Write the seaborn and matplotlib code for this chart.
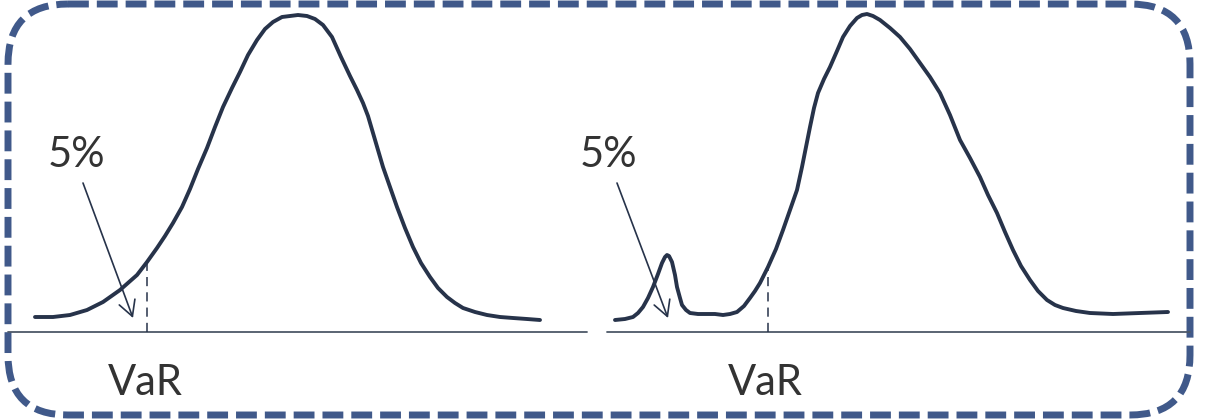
import numpy as np
import pandas as pd
import matplotlib
matplotlib.use("Agg")
import matplotlib.pyplot as plt
import seaborn as sns
from matplotlib.patches import FancyBboxPatch

# ---------------- data (arbitrary units) ----------------
# Left panel: bell-shaped return distribution
left_x = [27, 45, 62, 79, 95, 112, 129, 139, 149, 157, 165, 174, 182, 190, 199,
          207, 215, 224, 232, 240, 249, 257, 265, 274, 282, 290, 299, 307, 315,
          324, 333, 342, 349, 355, 360, 365, 370, 375, 382, 389, 397, 405, 413,
          422, 430, 439, 447, 455, 467, 479, 492, 505, 519, 532]
left_y = [15, 15, 17, 22, 30, 42, 57, 70, 84, 96, 109, 125, 143, 163, 184,
          205, 225, 244, 260, 277, 292, 303, 310, 315, 316, 317, 316, 313, 307,
          295, 275, 256, 242, 229, 216, 199, 182, 165, 145, 125, 104, 85, 69,
          55, 44, 35, 29, 24, 20, 17, 15, 14, 13, 12]

# Right panel: distribution with a small extra bump in the left tail
right_x = [8, 18, 26, 31, 36, 41, 46, 51, 55, 58, 60, 62, 65, 68, 70, 73, 75,
           79, 83, 91, 100, 108, 116, 123, 130, 137, 143, 148, 153, 161, 169,
           176, 183, 190, 195, 199, 203, 207, 211, 217, 223, 230, 236, 243, 250,
           255, 260, 266, 273, 283, 293, 303, 313, 323, 333, 343, 353, 363, 373,
           381, 390, 398, 406, 414, 423, 431, 440, 448, 456, 469, 483, 506, 533,
           561]
right_y = [12, 13, 15, 19, 25, 34, 45, 58, 69, 75, 77, 76, 70, 57, 45, 34, 27,
           22, 19, 18, 18, 18, 17, 18, 20, 26, 34, 41, 49, 65, 83,
           102, 122, 142, 165, 185, 205, 224, 239, 253, 265, 281, 295, 306, 314,
           317, 318, 316, 312, 304, 295, 283, 269, 255, 239, 217, 192, 174, 155,
           137, 119, 100, 82, 66, 52, 41, 32, 27, 24, 21, 19, 18, 19,
           20]

var_x = [139, 161]                   # VaR position in each panel
tail_label = "5%"
var_label = "VaR"
arrow_start = [(75, 149), (10, 149)]
arrow_end = [(125, 14), (61, 14)]
label_pos = [(68, 165), (1.5, 165)]
var_label_x = [137, 158]

# ---------------- style ----------------
W, H = 1219, 419
CURVE = "#27334a"
TEXT = "#333333"
BASE = "#4d5868"
BORDER = "#40598a"

sns.set_theme(style="white")
plt.rcParams["font.family"] = ["Lato", "DejaVu Sans"]

fig = plt.figure(figsize=(W / 100, H / 100), dpi=100)
fig.patch.set_facecolor("white")

# background axes in pixel units for the dashed rounded border
bg = fig.add_axes([0, 0, 1, 1])
bg.set_xlim(0, W)
bg.set_ylim(H, 0)
bg.axis("off")
border = FancyBboxPatch((8, 4), 1182, 411,
                        boxstyle="round,pad=0,rounding_size=60",
                        fill=False, edgecolor=BORDER, linewidth=5.0,
                        linestyle=(0, (3.0, 1.15)), capstyle="butt")
bg.add_patch(border)

def px_axes(x0, x1, ybot, ytop):
    return fig.add_axes([x0 / W, (H - ybot) / H, (x1 - x0) / W, (ybot - ytop) / H])

axes = [px_axes(8, 587, 332, 10), px_axes(607, 1190, 332, 10)]
xlims = [(0, 579), (0, 583)]
curves = [(left_x, left_y), (right_x, right_y)]

for i, ax in enumerate(axes):
    xs, ys = curves[i]
    df = pd.DataFrame({"x": xs, "density": ys})
    sns.lineplot(data=df, x="x", y="density", ax=ax, sort=False,
                 color=CURVE, linewidth=2.8, solid_capstyle="round",
                 solid_joinstyle="round")
    ax.set_xlim(*xlims[i])
    ax.set_ylim(0, 322)
    ax.axhline(0, color=BASE, linewidth=1.3, clip_on=False)
    vx = var_x[i]
    vtop = float(np.interp(vx, xs, ys))
    ax.plot([vx, vx], [0, vtop], color=CURVE, linewidth=1.1,
            linestyle=(0, (6, 4)))
    ax.annotate("", xy=arrow_end[i], xytext=arrow_start[i],
                arrowprops=dict(arrowstyle="->,head_length=0.55,head_width=0.3",
                                mutation_scale=20, color=CURVE, lw=1.2,
                                shrinkA=0, shrinkB=0))
    lx, ly = label_pos[i]
    ax.text(lx, ly, tail_label, ha="center", va="baseline", fontsize=30,
            color=TEXT)
    ax.text(var_label_x[i], -63, var_label, ha="center", va="baseline",
            fontsize=30, color=TEXT, clip_on=False)
    ax.set_xlabel("")
    ax.set_ylabel("")
    ax.axis("off")

fig.savefig("out.png", dpi=100, facecolor="white")
